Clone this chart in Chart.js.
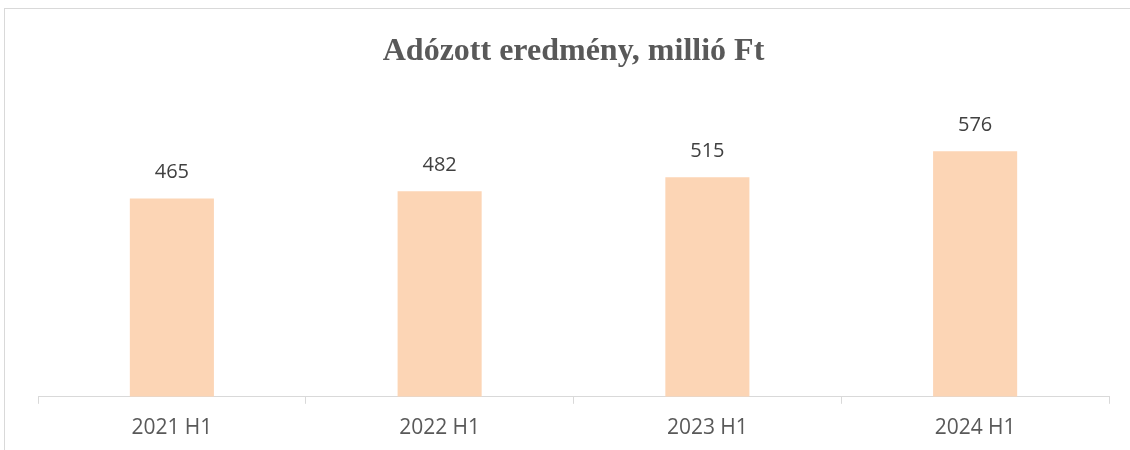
<!DOCTYPE html>
<html>
<head>
<meta charset="utf-8">
<script src="https://cdn.jsdelivr.net/npm/chart.js@4/dist/chart.umd.min.js"></script>
<style>
  html, body { margin:0; padding:0; background:#fff; overflow:hidden; }
  #frame { position:absolute; left:4px; top:8px; width:1140px; height:460px; border:1px solid #d9d9d9; }
  #wrap { position:absolute; left:0; top:0; width:1130px; height:450px; }
</style>
</head>
<body>
<div id="frame"></div>
<div id="wrap"><canvas id="c"></canvas></div>
<script>
// ─── Data ────────────────────────────────────────────────────────────────────
const categories = ['2021 H1', '2022 H1', '2023 H1', '2024 H1'];
const profit     = [465, 482, 515, 576];
const titleText  = 'Adózott eredmény, millió Ft';

// value labels above the bars
const barLabels = {
  id: 'barLabels',
  afterDatasetsDraw(chart) {
    const ctx = chart.ctx;
    const meta = chart.getDatasetMeta(0);
    ctx.save();
    ctx.font = '20px "Open Sans"';
    ctx.fillStyle = '#404040';
    ctx.textAlign = 'center';
    ctx.textBaseline = 'middle';
    meta.data.forEach((bar, i) => {
      ctx.fillText(profit[i], bar.x, bar.y - 26);
    });
    ctx.restore();
  }
};

new Chart(document.getElementById('c'), {
  type: 'bar',
  data: {
    labels: categories,
    datasets: [{
      data: profit,
      backgroundColor: '#fcd5b5',
      categoryPercentage: 1,
      barPercentage: 0.314
    }]
  },
  options: {
    responsive: true,
    maintainAspectRatio: false,
    animation: false,
    layout: { padding: { left: 38, right: 21, top: 0, bottom: -3 } },
    plugins: {
      legend: { display: false },
      tooltip: { enabled: false },
      title: {
        display: true,
        text: titleText,
        color: '#595959',
        font: { family: '"Liberation Serif"', size: 32, weight: 'bold' },
        padding: { top: 33, bottom: 27 }
      }
    },
    scales: {
      x: {
        offset: true,
        grid: { offset: true, drawOnChartArea: false, drawTicks: true, tickLength: 7, color: '#d9d9d9', lineWidth: 1 },
        border: { color: '#d9d9d9', width: 1 },
        ticks: { color: '#595959', font: { family: '"Open Sans"', size: 21 }, padding: 12 }
      },
      y: {
        display: false,
        min: 0,
        max: 700
      }
    }
  },
  plugins: [barLabels]
});
</script>
</body>
</html>
